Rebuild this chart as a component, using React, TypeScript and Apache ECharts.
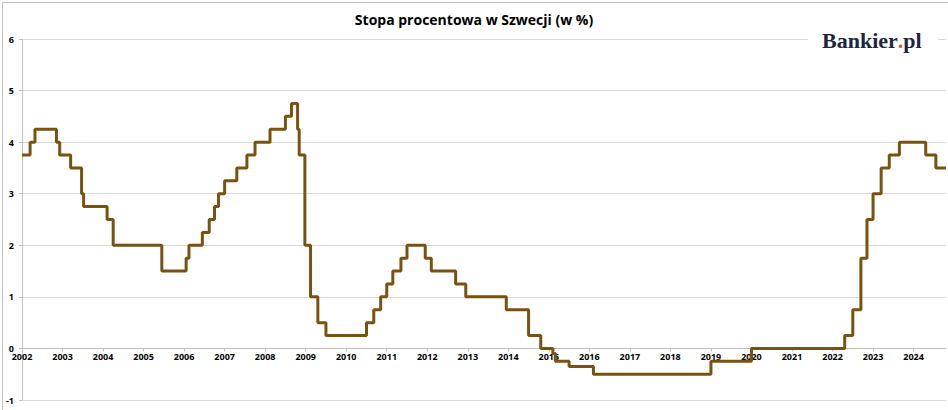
import React, { useEffect, useRef } from "react";
import * as echarts from "echarts";

// moments of rate change (decimal year) and the rate from that moment
const changeTimes = [
  2002.0, 2002.2, 2002.32, 2002.85, 2002.93, 2003.2, 2003.47, 2003.52, 2004.1, 2004.25,
  2005.45, 2006.05, 2006.12, 2006.45, 2006.62, 2006.75, 2006.85, 2007.0, 2007.3, 2007.55,
  2007.75, 2008.12, 2008.5, 2008.65, 2008.8, 2008.84, 2008.98, 2009.12, 2009.3, 2009.5,
  2010.5, 2010.68, 2010.85, 2011.0, 2011.15, 2011.35, 2011.5, 2011.95, 2012.1, 2012.7,
  2012.95, 2013.95, 2014.5, 2014.8, 2015.1, 2015.16, 2015.5, 2016.1, 2019.0, 2020.0,
  2022.3, 2022.5, 2022.7, 2022.85, 2023.0, 2023.2, 2023.4, 2023.65, 2024.3, 2024.55,
];
const rates = [
  3.75, 4.0, 4.25, 4.0, 3.75, 3.5, 3.0, 2.75, 2.5, 2.0,
  1.5, 1.75, 2.0, 2.25, 2.5, 2.75, 3.0, 3.25, 3.5, 3.75,
  4.0, 4.25, 4.5, 4.75, 4.25, 3.75, 2.0, 1.0, 0.5, 0.25,
  0.5, 0.75, 1.0, 1.25, 1.5, 1.75, 2.0, 1.75, 1.5, 1.25,
  1.0, 0.75, 0.25, 0.0, -0.1, -0.25, -0.35, -0.5, -0.25, 0.0,
  0.25, 0.75, 1.75, 2.5, 3.0, 3.5, 3.75, 4.0, 3.75, 3.5,
];
const endTime = 2024.8;

const App = () => {
  const chartRef = useRef(null);

  useEffect(() => {
    document.body.style.margin = "0";
    const chart = echarts.init(chartRef.current, null, { renderer: "svg" });
    const data = changeTimes.map((t, i) => [t, rates[i]]);
    data.push([endTime, rates[rates.length - 1]]);

    chart.setOption({
      animation: false,
      backgroundColor: "#fff",
      title: {
        text: "Stopa procentowa w Szwecji (w %)",
        left: "center",
        top: 7,
        textStyle: { fontFamily: "Open Sans", fontSize: 14, fontWeight: "bold", color: "#000" },
      },
      graphic: [
        { type: "rect", left: 0, top: 0, z: 100, shape: { width: 947, height: 409 }, style: { fill: "none", stroke: "#bfbfbf", lineWidth: 1 } },
        { type: "rect", left: 808, top: 28, z: 100, shape: { width: 130, height: 28 }, style: { fill: "#fff" } },
        {
          type: "text",
          left: 822,
          top: 29,
          z: 101,
          style: {
            text: "{a|Bankier}{b|.}{a|pl}",
            rich: {
              a: { fontFamily: "Liberation Serif", fontWeight: "bold", fontSize: 22, fill: "#1c2543" },
              b: { fontFamily: "Liberation Serif", fontWeight: "bold", fontSize: 22, fill: "#e8541e" },
            },
          },
        },
      ],
      grid: { left: 22, right: 2, top: 39, bottom: 10 },
      xAxis: {
        type: "value",
        min: 2002,
        max: endTime,
        interval: 1,
        offset: -51.6,
        axisLine: { lineStyle: { color: "#bfbfbf" } },
        axisTick: { show: true, length: 3, lineStyle: { color: "#bfbfbf" } },
        axisLabel: {
          showMaxLabel: false,
          formatter: (v) => String(v),
          fontFamily: "Open Sans",
          fontSize: 9,
          fontWeight: "bold",
          color: "#000",
          margin: 4,
        },
        splitLine: { show: false },
      },
      yAxis: {
        type: "value",
        min: -1,
        max: 6,
        interval: 1,
        axisLine: { show: true, lineStyle: { color: "#bfbfbf" } },
        axisTick: { show: true, length: 3, lineStyle: { color: "#bfbfbf" } },
        axisLabel: { fontFamily: "Open Sans", fontSize: 9, fontWeight: "bold", color: "#000", margin: 8 },
        splitLine: { lineStyle: { color: "#d9d9d9" } },
      },
      series: [
        {
          type: "line",
          step: "end",
          data,
          symbol: "none",
          lineStyle: { color: "#7a5210", width: 3 },
          z: 3,
        },
      ],
    });
    return () => chart.dispose();
  }, []);

  return <div ref={chartRef} style={{ width: 948, height: 410 }}></div>;
};

export default App;
